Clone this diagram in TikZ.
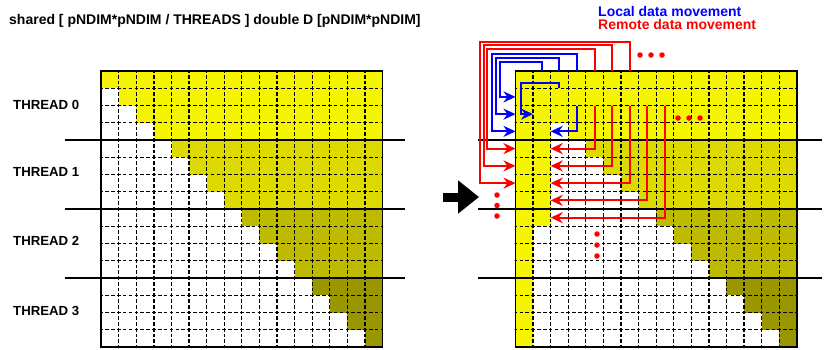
\documentclass[tikz,border=0pt]{standalone}
\usepackage{fontspec}
\setmainfont{Liberation Sans}
\usetikzlibrary{arrows.meta}
\definecolor{th0}{RGB}{245,245,0}
\definecolor{th1}{RGB}{220,218,0}
\definecolor{th2}{RGB}{190,186,0}
\definecolor{th3}{RGB}{153,150,0}
\definecolor{lblue}{RGB}{0,0,255}
\definecolor{rred}{RGB}{255,0,0}
\newcommand\mygrid[1]{%
  \foreach \i in {1,...,15}{
    \draw[hdash] (#1, 71+\i*17.25) -- (#1+16*17.58, 71+\i*17.25);
    \draw[vdash] (#1+\i*17.58, 71) -- (#1+\i*17.58, 347);
  }
  \draw[gridborder] (#1,71) rectangle (#1+16*17.58, 347);
}
\newcommand\mytriangle[1]{%
  \foreach \r in {0,...,15}{
    \foreach \c in {\r,...,15}{
      \pgfmathtruncatemacro\t{\r/4}
      \fill[th\t] (#1+\c*17.58, 71+\r*17.25) rectangle ++(17.6,17.27);
    }
  }
}
\begin{document}
\begin{tikzpicture}[x=1pt,y=-1pt,
  gridline/.style={line width=1.25pt},
  hdash/.style={gridline, dash pattern=on 3.6pt off 2.26pt, dash phase=1.8pt},
  vdash/.style={gridline, dash pattern=on 3.6pt off 2.15pt, dash phase=1.8pt},
  gridborder/.style={line width=1.6pt},
  threadline/.style={line width=1.5pt},
  lbl/.style={font=\bfseries\fontsize{13.2}{13.2}\selectfont, anchor=base west, inner sep=0pt},
  headtext/.style={font=\bfseries\fontsize{14}{14}\selectfont, anchor=base west, inner sep=0pt},
  local/.style={draw=lblue, line width=2pt, -{Stealth[length=12pt,width=11pt]}},
  remote/.style={draw=rred, line width=2pt, -{Stealth[length=12pt,width=11pt]}},
  dot/.style={circle, fill=rred, inner sep=0pt, minimum size=5.5pt},
]
\useasboundingbox (0,0) rectangle (831,349);
\fill[white] (0,0) rectangle (831,349);

% texts
\node[headtext] (title) at (9,24.5) {shared [ pNDIM*pNDIM / THREADS ] double D [pNDIM*pNDIM]};
\node[headtext, text=lblue] (leg1) at (598,16.3) {Local data movement};
\node[headtext, text=rred] (leg2) at (598,29.5) {Remote data movement};
\node[lbl] (th0) at (13,109) {THREAD 0};
\node[lbl] (th1) at (13,176.7) {THREAD 1};
\node[lbl] (th2) at (13,245.7) {THREAD 2};
\node[lbl] (th3) at (13,315.7) {THREAD 3};

% left grid
\mytriangle{101.2}
\mygrid{101.2}

% right grid
\mytriangle{515.5}
\fill[th0] (515.5,71) rectangle ++(17.6,276);
\fill[th0] (533.08,71) rectangle ++(17.6,155.25);
\mygrid{515.5}

% thread boundaries
\foreach \y in {140,209,278}{
  \draw[threadline] (65,\y) -- (405,\y);
  \draw[threadline] (478,\y) -- (822,\y);
}

% big arrow
\coordinate (ba1) at (443,197);
\coordinate (ba2) at (479,197);
\draw[line width=9pt, -{Triangle[length=21pt,width=32pt]}] (ba1) -- (ba2);

% outer arrows
\foreach \k/\xc/\yc/\sty in {1/499.5/62/local, 2/495.5/57.5/local, 3/491.5/53.5/local, 4/487/48.5/remote, 5/483.5/45/remote, 6/480/41.5/remote}{
  \coordinate (top\k) at (515.5+\k*17.58+8.79, 71);
  \coordinate (bend\k) at (\xc,\yc);
  \coordinate (lft\k) at (515.5, 71+\k*17.25+8.625);
  \draw[\sty] (top\k) |- (bend\k) |- (lft\k);
}

% interior local arrows
\coordinate (a7s) at (559.45,88.25);
\coordinate (b7) at (521,83);
\coordinate (e7) at (533.08,114.125);
\draw[local] (a7s) |- (b7) |- (e7);
\coordinate (a8s) at (577.03,105.5);
\coordinate (e8) at (550.66,131.375);
\draw[local] (a8s) |- (e8);

% interior remote arrows
\foreach \c in {4,...,8}{
  \coordinate (rs\c) at (515.5+\c*17.58+8.79, 105.5);
  \coordinate (re\c) at (550.66, 71+\c*17.25+8.625);
  \draw[remote] (rs\c) |- (re\c);
}

% continuation dots
\node[dot] (dt1) at (640,55) {};
\node[dot] (dt2) at (651,55) {};
\node[dot] (dt3) at (662,55) {};
\node[dot] (di1) at (678,118) {};
\node[dot] (di2) at (689,118) {};
\node[dot] (di3) at (700,118) {};
\node[dot] (dl1) at (497,195) {};
\node[dot] (dl2) at (497,205.5) {};
\node[dot] (dl3) at (497,216) {};
\node[dot] (dv1) at (597,234) {};
\node[dot] (dv2) at (597,245) {};
\node[dot] (dv3) at (597,256) {};
\end{tikzpicture}
\end{document}
